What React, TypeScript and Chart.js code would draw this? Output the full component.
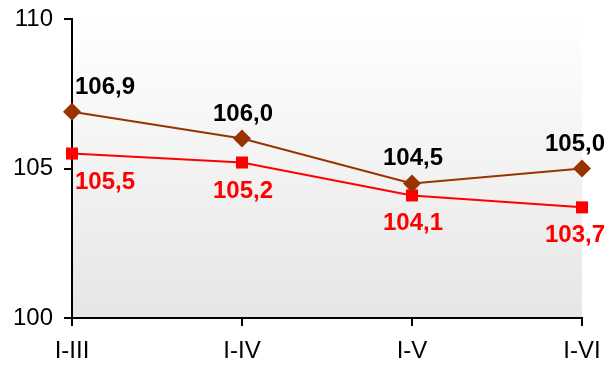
import React, { useEffect, useRef } from "react";
import { Chart, registerables } from "chart.js";

Chart.register(...registerables);

const categories = ["I-III", "I-IV", "I-V", "I-VI"];
const seriesBrown = [106.9, 106.0, 104.5, 105.0];
const seriesRed = [105.5, 105.2, 104.1, 103.7];
const yTicks = [100, 105, 110];

const FONT = "'Liberation Sans', Arial, sans-serif";

const fmt = (v: number) => v.toFixed(1).replace(".", ",");

const bgPlugin = {
  id: "plotBg",
  beforeDraw(chart: any) {
    const { ctx, chartArea } = chart;
    if (!chartArea) return;
    const g = ctx.createLinearGradient(0, chartArea.top, 0, chartArea.bottom);
    g.addColorStop(0, "#ffffff");
    g.addColorStop(1, "#e6e6e6");
    ctx.save();
    ctx.fillStyle = g;
    ctx.fillRect(chartArea.left, chartArea.top, chartArea.right - chartArea.left, chartArea.bottom - chartArea.top);
    ctx.restore();
  },
};

const labelPlugin = {
  id: "valueLabels",
  afterDatasetsDraw(chart: any) {
    const { ctx, chartArea } = chart;
    ctx.save();
    ctx.font = `bold 24px ${FONT}`;
    ctx.textBaseline = "alphabetic";
    ctx.textAlign = "left";
    chart.data.datasets.forEach((ds: any, di: number) => {
      const meta = chart.getDatasetMeta(di);
      const n = meta.data.length;
      meta.data.forEach((pt: any, i: number) => {
        const text = fmt(ds.data[i]);
        const w = ctx.measureText(text).width;
        let left: number;
        if (i === 0) left = chartArea.left + 3;
        else if (i === n - 1) left = pt.x - 7 - w / 2;
        else left = pt.x + 1 - w / 2;
        const y = di === 0 ? pt.y - 18 : pt.y + 35;
        ctx.fillStyle = di === 0 ? "#000000" : "#ff0000";
        ctx.fillText(text, left, y);
      });
    });
    ctx.restore();
  },
};

export default function App() {
  const ref = useRef<HTMLCanvasElement>(null);
  useEffect(() => {
    if (!ref.current) return;
    const chart = new Chart(ref.current, {
      type: "line",
      data: {
        labels: categories,
        datasets: [
          {
            data: seriesBrown,
            borderColor: "#993300",
            backgroundColor: "#993300",
            borderWidth: 2,
            pointStyle: "rectRot",
            pointRadius: 9,
            pointBorderWidth: 0,
            clip: false,
          },
          {
            data: seriesRed,
            borderColor: "#ff0000",
            backgroundColor: "#ff0000",
            borderWidth: 2,
            pointStyle: "rect",
            pointRadius: 8.5,
            pointBorderWidth: 0,
            clip: false,
          },
        ],
      },
      options: {
        responsive: false,
        animation: false,
        layout: { padding: { left: 0, right: 26, top: 19, bottom: 0 } },
        plugins: { legend: { display: false }, tooltip: { enabled: false } },
        scales: {
          x: {
            offset: false,
            grid: { drawOnChartArea: false, drawTicks: true, tickLength: 8, color: "#000", lineWidth: 2 },
            border: { color: "#000", width: 2 },
            ticks: { color: "#000", font: { family: FONT, size: 24 }, padding: 11, maxRotation: 0 },
            afterFit(scale: any) {
              scale.height = 48;
              scale.paddingLeft = 0;
              scale.paddingRight = 0;
            },
          },
          y: {
            min: 100,
            max: 110,
            afterBuildTicks(scale: any) {
              scale.ticks = yTicks.map((v) => ({ value: v }));
            },
            grid: { drawOnChartArea: false, drawTicks: true, tickLength: 8, color: "#000", lineWidth: 2 },
            border: { color: "#000", width: 2 },
            ticks: { color: "#000", font: { family: FONT, size: 24 }, padding: 11 },
            afterFit(scale: any) {
              scale.width = 72;
              scale.paddingTop = 0;
              scale.paddingBottom = 0;
            },
          },
        },
      },
      plugins: [bgPlugin, labelPlugin],
    });
    return () => chart.destroy();
  }, []);
  return (
    <div style={{ position: "absolute", left: 0, top: 0, width: 608, height: 366, background: "#fff" }}>
      <canvas ref={ref} width={608} height={366} style={{ display: "block" }} />
    </div>
  );
}
